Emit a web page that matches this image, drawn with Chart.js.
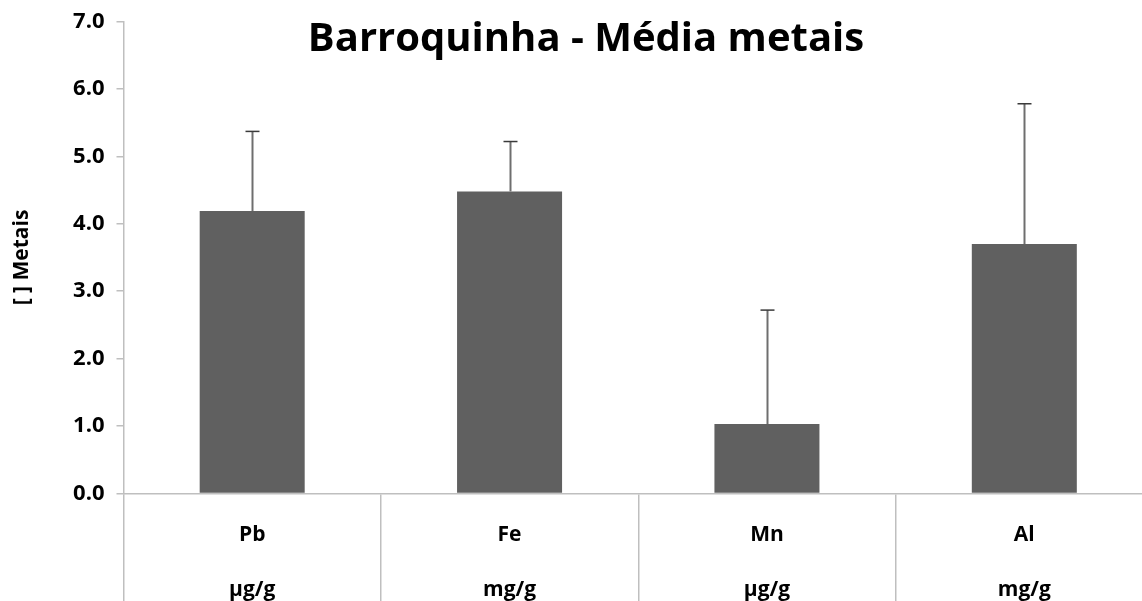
<!DOCTYPE html>
<html>
<head>
<meta charset="utf-8">
<script src="https://cdn.jsdelivr.net/npm/chart.js@4/dist/chart.umd.min.js"></script>
<style>
  html, body { margin: 0; padding: 0; background: #fff; overflow: hidden; }
  #wrap { width: 1172px; height: 630px; }
</style>
</head>
<body>
<div id="wrap"><canvas id="c" width="1172" height="630"></canvas></div>
<script>
const chartTitle = 'Barroquinha - Média metais';
const yAxisTitle = '[ ] Metais';
const elements = ['Pb', 'Fe', 'Mn', 'Al'];
const units = ['µg/g', 'mg/g', 'µg/g', 'mg/g'];
const means = [4.19, 4.48, 1.03, 3.70];
const stdDevs = [1.18, 0.74, 1.69, 2.08];
const yTicks = [0, 1, 2, 3, 4, 5, 6, 7];

const labels = elements.map((e, i) => [e, units[i]]);
const FONT = "'Open Sans', 'DejaVu Sans', sans-serif";

const errorBars = {
  id: 'errorBars',
  afterDatasetsDraw(chart) {
    const ctx = chart.ctx;
    const meta = chart.getDatasetMeta(0);
    const y = chart.scales.y;
    ctx.save();
    meta.data.forEach((bar, i) => {
      const x = Math.round(bar.x) + 0.5;
      const yTop = y.getPixelForValue(means[i] + stdDevs[i]);
      const yBase = y.getPixelForValue(means[i]);
      ctx.strokeStyle = '#6e6e6e';
      ctx.lineWidth = 2;
      ctx.beginPath();
      ctx.moveTo(x, yBase);
      ctx.lineTo(x, yTop);
      ctx.stroke();
      ctx.strokeStyle = '#3a3a3a';
      ctx.lineWidth = 1.5;
      ctx.beginPath();
      ctx.moveTo(x - 7, yTop);
      ctx.lineTo(x + 7, yTop);
      ctx.stroke();
    });
    ctx.restore();
  }
};

const titlePlugin = {
  id: 'overlayTitle',
  afterDraw(chart) {
    const ctx = chart.ctx;
    ctx.save();
    ctx.font = "bold 40px " + FONT;
    ctx.fillStyle = '#000';
    ctx.textAlign = 'center';
    ctx.textBaseline = 'middle';
    ctx.fillText(chartTitle, 586, 40);
    ctx.restore();
  }
};

new Chart(document.getElementById('c'), {
  type: 'bar',
  data: {
    labels: labels,
    datasets: [{
      data: means,
      backgroundColor: '#606060',
      borderWidth: 0,
      barPercentage: 0.408,
      categoryPercentage: 1.0
    }]
  },
  options: {
    responsive: false,
    animation: false,
    layout: { padding: { top: 21.5, right: 19, left: 0, bottom: 0 } },
    plugins: { legend: { display: false }, tooltip: { enabled: false }, title: { display: false } },
    scales: {
      x: {
        offset: true,
        grid: {
          offset: true,
          drawOnChartArea: false,
          drawTicks: true,
          tickLength: 140,
          color: '#bfbfbf',
          lineWidth: 1.5
        },
        border: { display: true, color: '#bfbfbf', width: 1.5 },
        ticks: {
          padding: -126,
          color: '#000',
          maxRotation: 0,
          font: { family: FONT, weight: 'bold', size: 21, lineHeight: 2.62 }
        },
        afterFit(scale) {
          scale.height = 136.5;
          scale.paddingLeft = 0; scale.paddingRight = 0;
          scale.paddingTop = 0; scale.paddingBottom = 0;
        }
      },
      y: {
        min: 0,
        max: 7,
        afterBuildTicks(scale) { scale.ticks = yTicks.map(v => ({ value: v })); },
        grid: {
          drawOnChartArea: false,
          tickLength: 7,
          color: '#bfbfbf',
          lineWidth: 1.5
        },
        border: { display: true, color: '#bfbfbf', width: 1.5 },
        ticks: {
          padding: 12,
          color: '#000',
          font: { family: FONT, weight: 'bold', size: 22 },
          callback: (v) => Number(v).toFixed(1)
        },
        title: {
          display: true,
          text: yAxisTitle,
          color: '#000',
          font: { family: FONT, weight: 'bold', size: 21 },
          padding: { top: 9, bottom: 0 }
        },
        afterFit(scale) {
          scale.width = 123.5;
          scale.paddingTop = 0; scale.paddingBottom = 0;
          scale.paddingLeft = 0; scale.paddingRight = 0;
        }
      }
    }
  },
  plugins: [errorBars, titlePlugin]
});
</script>
</body>
</html>
